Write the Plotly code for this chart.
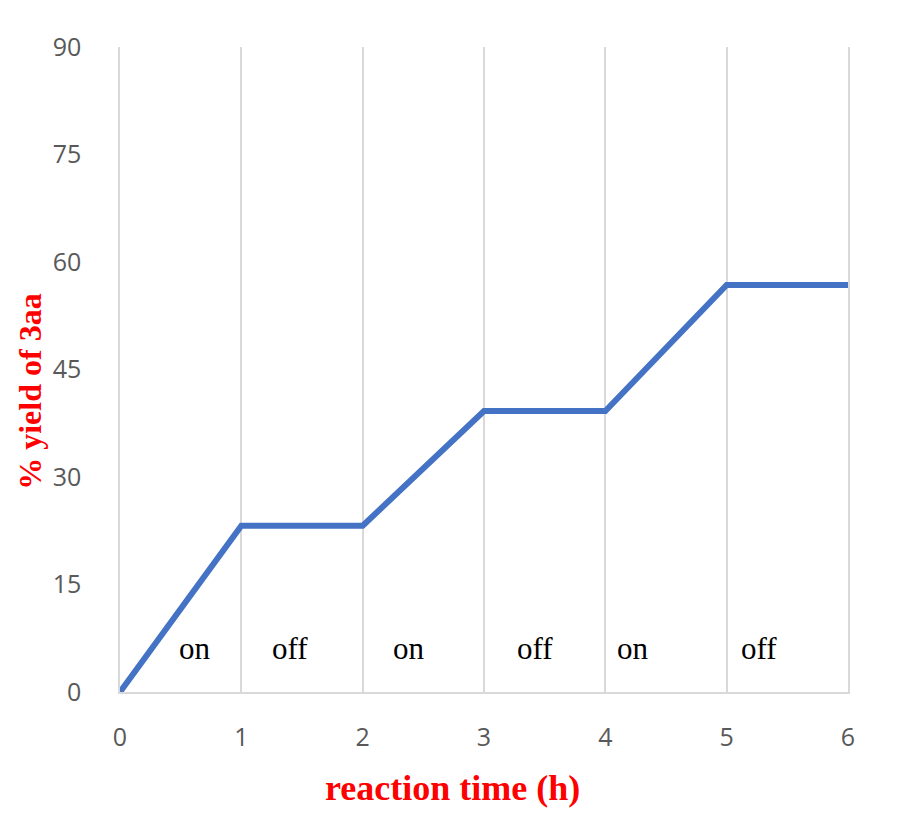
import plotly.graph_objects as go

time_h = [0, 1, 2, 3, 4, 5, 6]
yield_pct = [0, 23.2, 23.2, 39.2, 39.2, 56.8, 56.8]

label_x = [0.62, 1.40, 2.38, 3.42, 4.23, 5.27]
label_y = [6.1, 6.1, 6.1, 6.1, 6.1, 6.1]
label_text = ["on", "off", "on", "off", "on", "off"]

x_ticks = [0, 1, 2, 3, 4, 5, 6]
y_ticks = [0, 15, 30, 45, 60, 75, 90]

fig = go.Figure()
fig.add_trace(go.Scatter(
    x=time_h, y=yield_pct, mode="lines",
    line=dict(color="#4472C4", width=6),
    showlegend=False, hoverinfo="skip",
))

for x, y, t in zip(label_x, label_y, label_text):
    fig.add_annotation(x=x, y=y, text=t, showarrow=False,
                       xref="x", yref="y", xanchor="center", yanchor="middle",
                       font=dict(family="Liberation Serif", size=31, color="black"))

fig.add_annotation(x=0.457, y=-0.149, xref="paper", yref="paper",
                   xanchor="center", yanchor="middle",
                   text="<b>reaction time (h)</b>", showarrow=False,
                   font=dict(family="Liberation Serif", size=36, color="red"))
fig.add_annotation(x=-0.124, y=0.465, xref="paper", yref="paper",
                   xanchor="center", yanchor="middle",
                   text="<b>% yield of 3aa</b>", showarrow=False, textangle=-90,
                   font=dict(family="Liberation Serif", size=32, color="red"))

fig.update_layout(
    width=910, height=819,
    margin=dict(l=112, r=70, t=39, b=135),
    plot_bgcolor="white", paper_bgcolor="white",
    xaxis=dict(range=[0, 6], tickvals=x_ticks, showgrid=True, gridcolor="#D9D9D9",
               gridwidth=1.5, zeroline=False, showline=True, linecolor="#D9D9D9",
               linewidth=1.5, ticks="", ticklabelstandoff=22,
               tickfont=dict(family="Open Sans", size=25, color="#595959")),
    yaxis=dict(range=[0, 90], tickvals=y_ticks, showgrid=False, zeroline=False,
               showline=True, mirror=True, linecolor="#D9D9D9", linewidth=1.5,
               ticks="", ticklabelstandoff=32,
               tickfont=dict(family="Open Sans", size=25, color="#595959")),
)

fig.write_html("out.html")
